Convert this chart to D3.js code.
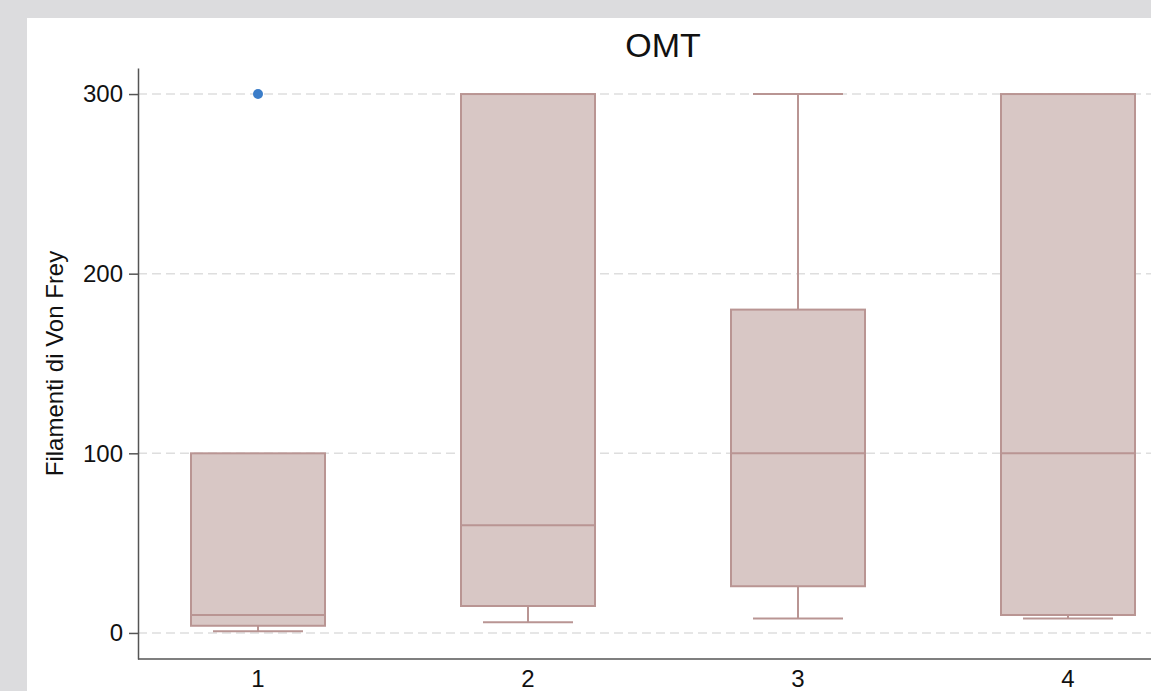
<!DOCTYPE html>
<html>
<head>
<meta charset="utf-8">
<script src="https://cdn.jsdelivr.net/npm/d3@7"></script>
<style>
  html, body { margin: 0; padding: 0; background: #dcdcde; }
  svg { display: block; }
  text { font-family: "Liberation Sans", Arial, Helvetica, sans-serif; fill: #111; }
</style>
</head>
<body>
<svg id="chart" width="1151" height="691"></svg>
<script>
// Group labels and box summary statistics (Filamenti di Von Frey, OMT)
const groups = ["1", "2", "3", "4"];
const whiskerLow = [1, 6, 8, 8];
const q1 = [4, 15, 26, 10];
const median = [10, 60, 100, 100];
const q3 = [100, 300, 180, 300];
const whiskerHigh = [100, 300, 300, 300];
const outliers = [{ group: "1", value: 300 }];
const yTicks = [0, 100, 200, 300];

const W = 1151, H = 691;
const svg = d3.select("#chart");

// white graph panel
svg.append("rect").attr("x", 27).attr("y", 18).attr("width", W - 27).attr("height", H - 18).attr("fill", "#ffffff");

const x = d3.scaleBand().domain(groups).range([123, 1203]).paddingInner(0).paddingOuter(0);
const y = d3.scaleLinear().domain([-14.5, 314.5]).range([659, 68]);
const plotLeft = 138, plotRight = W;

// dashed horizontal grid
svg.append("g").selectAll("line").data(yTicks).join("line")
  .attr("x1", plotLeft).attr("x2", plotRight)
  .attr("y1", d => y(d)).attr("y2", d => y(d))
  .attr("stroke", "#dedede").attr("stroke-width", 1.5)
  .attr("stroke-dasharray", "9,5");

const rows = groups.map((g, i) => ({
  g, lo: whiskerLow[i], q1: q1[i], med: median[i], q3: q3[i], hi: whiskerHigh[i]
}));

const boxW = 134, capW = 90;
const boxFill = "#d8c7c5", boxStroke = "#b99593";
const cx = d => x(d.g) + x.bandwidth() / 2;

const boxes = svg.append("g");
// whisker stems
boxes.selectAll("line.stem-lo").data(rows).join("line").attr("class", "stem-lo")
  .attr("x1", cx).attr("x2", cx).attr("y1", d => y(d.lo)).attr("y2", d => y(d.q1))
  .attr("stroke", boxStroke).attr("stroke-width", 2);
boxes.selectAll("line.stem-hi").data(rows).join("line").attr("class", "stem-hi")
  .attr("x1", cx).attr("x2", cx).attr("y1", d => y(d.hi)).attr("y2", d => y(d.q3))
  .attr("stroke", boxStroke).attr("stroke-width", 2);
// whisker caps
boxes.selectAll("line.cap-lo").data(rows).join("line").attr("class", "cap-lo")
  .attr("x1", d => cx(d) - capW / 2).attr("x2", d => cx(d) + capW / 2)
  .attr("y1", d => y(d.lo)).attr("y2", d => y(d.lo))
  .attr("stroke", boxStroke).attr("stroke-width", 2);
boxes.selectAll("line.cap-hi").data(rows.filter(d => d.hi > d.q3)).join("line").attr("class", "cap-hi")
  .attr("x1", d => cx(d) - capW / 2).attr("x2", d => cx(d) + capW / 2)
  .attr("y1", d => y(d.hi)).attr("y2", d => y(d.hi))
  .attr("stroke", boxStroke).attr("stroke-width", 2);
// boxes
boxes.selectAll("rect").data(rows).join("rect")
  .attr("x", d => cx(d) - boxW / 2).attr("width", boxW)
  .attr("y", d => y(d.q3)).attr("height", d => y(d.q1) - y(d.q3))
  .attr("fill", boxFill).attr("stroke", boxStroke).attr("stroke-width", 2);
// medians
boxes.selectAll("line.med").data(rows).join("line").attr("class", "med")
  .attr("x1", d => cx(d) - boxW / 2).attr("x2", d => cx(d) + boxW / 2)
  .attr("y1", d => y(d.med)).attr("y2", d => y(d.med))
  .attr("stroke", boxStroke).attr("stroke-width", 2);

// outside values
svg.append("g").selectAll("circle").data(outliers).join("circle")
  .attr("cx", d => x(d.group) + x.bandwidth() / 2).attr("cy", d => y(d.value))
  .attr("r", 5).attr("fill", "#3b7dc9");

// y axis
const yAxis = d3.axisLeft(y).tickValues(yTicks).tickSize(9).tickPadding(6).tickSizeOuter(0);
const gy = svg.append("g").attr("transform", `translate(${plotLeft},0)`).call(yAxis);
gy.select(".domain").attr("stroke", "#555").attr("stroke-width", 1.5);
gy.selectAll(".tick line").attr("stroke", "#555").attr("stroke-width", 1.5);
gy.selectAll(".tick text").attr("font-size", 24).attr("fill", "#111")
  .style("font-family", "'Liberation Sans', Arial, sans-serif");

// x axis
const xAxis = d3.axisBottom(x).tickSize(0).tickPadding(11).tickSizeOuter(0);
const gx = svg.append("g").attr("transform", `translate(0,${y(-14.5)})`).call(xAxis);
gx.select(".domain").attr("d", `M${plotLeft},0H${plotRight}`).attr("stroke", "#555").attr("stroke-width", 1.5);
gx.selectAll(".tick text").attr("font-size", 24).attr("fill", "#111")
  .style("font-family", "'Liberation Sans', Arial, sans-serif");

// title
svg.append("text").attr("x", 663).attr("y", 57).attr("text-anchor", "middle")
  .attr("font-size", 34).text("OMT");

// y axis title
svg.append("text")
  .attr("transform", `translate(63,${(y(-14.5) + y(314.5)) / 2}) rotate(-90)`)
  .attr("text-anchor", "middle").attr("font-size", 24)
  .text("Filamenti di Von Frey");
</script>
</body>
</html>
